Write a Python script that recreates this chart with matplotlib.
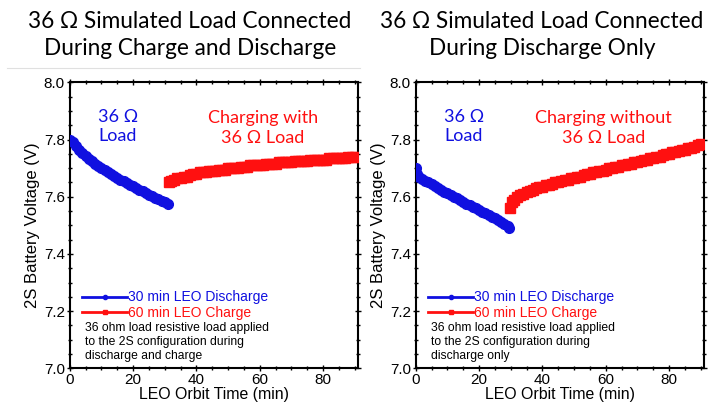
import matplotlib.pyplot as plt
from matplotlib.lines import Line2D
from matplotlib.ticker import MultipleLocator

# ---- data ----
# left panel: load connected during charge and discharge
t_dis_a = list(range(0, 32))
v_dis_a = [7.800, 7.790, 7.778, 7.765, 7.752, 7.742, 7.733, 7.724, 7.716, 7.708,
           7.700, 7.693, 7.686, 7.679, 7.672, 7.666, 7.660, 7.654, 7.648, 7.642,
           7.636, 7.630, 7.625, 7.619, 7.613, 7.607, 7.602, 7.597, 7.591, 7.586,
           7.580, 7.575]
t_chg_a = [31.5] + list(range(32, 91))
v_chg_a = [7.650,
           7.655, 7.660, 7.665, 7.665, 7.670, 7.670, 7.675, 7.680, 7.680,
           7.685, 7.685, 7.685, 7.690, 7.690, 7.690, 7.695, 7.695, 7.695, 7.700,
           7.700, 7.700, 7.700, 7.705, 7.705, 7.705, 7.710, 7.710, 7.710, 7.710,
           7.710, 7.715, 7.715, 7.715, 7.715, 7.720, 7.720, 7.720, 7.720, 7.720,
           7.725, 7.725, 7.725, 7.725, 7.725, 7.730, 7.730, 7.730, 7.730, 7.730,
           7.730, 7.735, 7.735, 7.735, 7.735, 7.735, 7.735, 7.740, 7.740, 7.740]

# right panel: load connected during discharge only
t_dis_b = [0, 0.5] + list(range(1, 30)) + [29.5]
v_dis_b = [7.700, 7.680, 7.670, 7.662, 7.655, 7.650, 7.645, 7.638, 7.632, 7.625,
           7.618, 7.612, 7.605, 7.600, 7.594, 7.588, 7.582, 7.576, 7.570, 7.565,
           7.560, 7.553, 7.548, 7.542, 7.536, 7.530, 7.524, 7.518, 7.512, 7.505,
           7.498, 7.490]
t_chg_b = [29.8, 30.3] + list(range(31, 91))
v_chg_b = [7.560, 7.580,
           7.590, 7.600, 7.605, 7.610, 7.615, 7.620, 7.625, 7.630, 7.635, 7.635,
           7.640, 7.640, 7.645, 7.650, 7.650, 7.655, 7.660, 7.660, 7.665, 7.665,
           7.670, 7.670, 7.675, 7.680, 7.680, 7.685, 7.685, 7.690, 7.690, 7.695,
           7.700, 7.700, 7.705, 7.705, 7.710, 7.710, 7.715, 7.715, 7.720, 7.720,
           7.725, 7.730, 7.730, 7.735, 7.735, 7.740, 7.740, 7.745, 7.750, 7.750,
           7.755, 7.755, 7.760, 7.765, 7.765, 7.770, 7.770, 7.775, 7.780, 7.785]

titles = ["36 \u03a9 Simulated Load Connected\nDuring Charge and Discharge",
          "36 \u03a9 Simulated Load Connected\nDuring Discharge Only"]
charge_labels = ["Charging with\n36 \u03a9 Load", "Charging without\n36 \u03a9 Load"]
notes = ["36 ohm load resistive load applied\nto the 2S configuration during\ndischarge and charge",
         "36 ohm load resistive load applied\nto the 2S configuration during\ndischarge only"]

BLUE = '#1010e0'
RED = '#ff1010'
ARIAL = 'Liberation Sans'
CALIBRI = 'Lato'

fig = plt.figure(figsize=(7.15, 4.04), dpi=100)


def draw_panel(ax, t_dis, v_dis, t_chg, v_chg, chg_label, chg_x, note):
    ax.plot(t_dis, v_dis, color=BLUE, marker='o', ms=7, lw=2.5, zorder=3)
    ax.plot(t_chg, v_chg, color=RED, marker='s', ms=6.5, lw=2.5, zorder=3)

    ax.set_xlim(0, 91)
    ax.set_ylim(7.0, 8.0)
    ax.xaxis.set_major_locator(MultipleLocator(20))
    ax.xaxis.set_minor_locator(MultipleLocator(5))
    ax.yaxis.set_major_locator(MultipleLocator(0.2))
    ax.yaxis.set_minor_locator(MultipleLocator(0.05))
    ax.tick_params(which='both', direction='inout', top=True, right=True,
                   labelsize=11, width=1, pad=1)
    ax.tick_params(which='major', length=5)
    ax.tick_params(which='minor', length=3)
    for lab in ax.get_xticklabels() + ax.get_yticklabels():
        lab.set_fontfamily(ARIAL)
    for s in ax.spines.values():
        s.set_linewidth(1.5)

    ax.set_xlabel("LEO Orbit Time (min)", fontsize=11.4, family=ARIAL, labelpad=0)
    ax.set_ylabel("2S Battery Voltage (V)", fontsize=12, family=ARIAL, labelpad=3)

    ax.text(15.2, 7.845, "36 \u03a9\nLoad", color=BLUE, fontsize=13,
            family=CALIBRI, ha='center', va='center', linespacing=1.25)
    ax.text(chg_x, 7.84, chg_label, color=RED, fontsize=13,
            family=CALIBRI, ha='center', va='center', linespacing=1.25)

    handles = [Line2D([], [], color=BLUE, marker='o', ms=3, lw=2),
               Line2D([], [], color=RED, marker='s', ms=3, lw=2)]
    leg = ax.legend(handles, ["30 min LEO Discharge", "60 min LEO Charge"],
                    loc='lower left', bbox_to_anchor=(0.02, 0.145), frameon=False,
                    handlelength=3.2, handletextpad=0.05, borderpad=0,
                    labelspacing=0.1, prop={'family': ARIAL, 'size': 10})
    for txt, c in zip(leg.get_texts(), [BLUE, RED]):
        txt.set_color(c)
    ax.text(4.8, 7.022, note, fontsize=8.7, family=ARIAL, ha='left',
            va='bottom', linespacing=1.25)


ax1 = fig.add_axes([69.7 / 715, 35.7 / 404, 288.3 / 715, 286 / 404])
draw_panel(ax1, t_dis_a, v_dis_a, t_chg_a, v_chg_a, charge_labels[0], 60.9, notes[0])
ax2 = fig.add_axes([415.7 / 715, 35.7 / 404, 288.3 / 715, 286 / 404])
draw_panel(ax2, t_dis_b, v_dis_b, t_chg_b, v_chg_b, charge_labels[1], 59.2, notes[1])

fig.text(190 / 715, 1 - 35 / 404, titles[0], fontsize=16.3, family=CALIBRI,
         ha='center', va='center', linespacing=1.4)
fig.text(542 / 715, 1 - 35 / 404, titles[1], fontsize=16.3, family=CALIBRI,
         ha='center', va='center', linespacing=1.4)

# thin grey rule from the slide layout
fig.add_artist(Line2D([7 / 715, 360 / 715], [1 - 68 / 404, 1 - 68 / 404],
                      color='#e0e0e0', lw=0.8))

fig.savefig("out.png", dpi=100)
